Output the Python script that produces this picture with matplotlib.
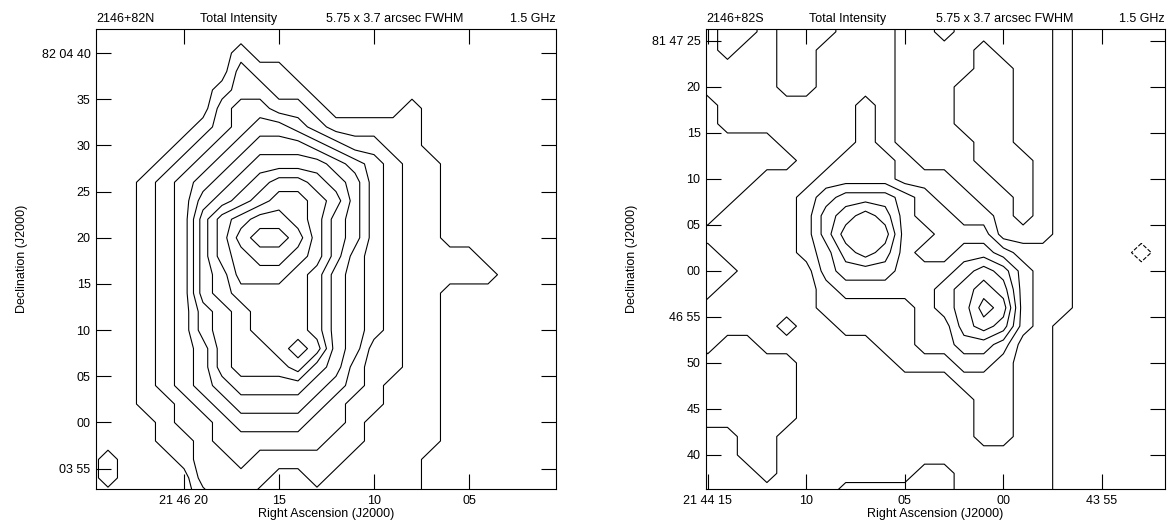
import numpy as np
import matplotlib.pyplot as plt

plt.rcParams['font.family'] = ['Liberation Sans', 'DejaVu Sans']

n_ra = np.arange(25, -1, -1)      # seconds of 21 46
n_dec = np.arange(44, -9, -2)     # arcsec from 82 04 00
n_map = [
    "00000000000000000000000000",
    "00000000000000000000000000",
    "00000000100000000000000000",
    "00000000211000000000000000",
    "00000001221100000000000000",
    "00000002332210000100000000",
    "00000012344321111100000000",
    "00000123455543221100000000",
    "00001234566665432110000000",
    "00012345678876532110000000",
    "00012356789987532110000000",
    "000123689aa986532110000000",
    "00012368abba86532110000000",
    "000123689aa986432111100000",
    "00012367999875432111110000",
    "00012367888875432110000000",
    "00012356788875432110000000",
    "00012356788875432110000000",
    "00012346778985422110000000",
    "00012346777865322110000000",
    "00012345666654321110000000",
    "00011234555543221110000000",
    "00001223444433211110000000",
    "00001123333332211110000000",
    "01000122322222111100000000",
    "01000022221121111100000000",
    "00000012211111111100000000",
]

# 2146+82S ('n' = below zero)
s_ra = np.arange(16, -10, -1)     # seconds of 21 44
s_dec = np.arange(28, -25, -2)    # arcsec from 81 47 00
s_map = [
    "11001000111001000001000000",
    "11001000111001000001000000",
    "11011001111000010001000000",
    "11111001111000011001000000",
    "01111001111000111001000000",
    "00111111121000111001000000",
    "00111111121000111001000000",
    "00000111121000011001000000",
    "00000011222100011101000000",
    "00001112222111001101000000",
    "00011123444321100101000000",
    "00111124565322110101000000",
    "11111124666332220001000000",
    "00111123565322332111000n00",
    "00011113444333454211000000",
    "00111112333334565211000000",
    "01111112222234576211000000",
    "01111011222233565210000000",
    "01001111112233443110000000",
    "00000011111222332110000000",
    "00000011111111222110000000",
    "00000011111111122110000000",
    "00000011111111122110000000",
    "11100111111111122110000000",
    "11100111111111111110000000",
    "11110111111100111110000000",
    "11111111000000111110000000",
]

levels = [-0.5, 0.5, 1.5, 2.5, 3.5, 4.5, 5.5, 6.5, 7.5, 8.5, 9.5, 10.5]

n_xticks = [20, 15, 10, 5]
n_xlabels = ['21 46 20', '15', '10', '05']
n_yticks = [40, 35, 30, 25, 20, 15, 10, 5, 0, -5]
n_ylabels = ['82 04 40', '35', '30', '25', '20', '15', '10', '05', '00', '03 55']
s_xticks = [15, 10, 5, 0, -5]
s_xlabels = ['21 44 15', '10', '05', '00', '43 55']
s_yticks = [25, 20, 15, 10, 5, 0, -5, -10, -15, -20]
s_ylabels = ['81 47 25', '20', '15', '10', '05', '00', '46 55', '50', '45', '40']


def decode(rows):
    return np.array([[-1 if c == 'n' else int(c, 16) for c in r] for r in rows], float)


fig = plt.figure(figsize=(11.68, 5.27), dpi=100)
axL = fig.add_axes([96 / 1168, 38 / 527, 460 / 1168, 460 / 527])
axR = fig.add_axes([706 / 1168, 38 / 527, 459 / 1168, 460 / 527])

panels = [
    (axL, n_ra, n_dec, n_map, (24.63, 0.42), (-7.2, 42.6), n_xticks, n_xlabels,
     n_yticks, n_ylabels, '2146+82N'),
    (axR, s_ra, s_dec, s_map, (15.09, -8.2), (-23.7, 26.3), s_xticks, s_xlabels,
     s_yticks, s_ylabels, '2146+82S'),
]

for ax, ra, dec, m, xl, yl, xt, xtl, yt, ytl, name in panels:
    z = decode(m)
    ax.contour(ra, dec, z, levels=levels, colors='k', linewidths=0.8)
    ax.set_xlim(*xl)
    ax.set_ylim(*yl)
    ax.set_xticks(xt)
    ax.set_xticklabels(xtl)
    ax.set_yticks(yt)
    ax.set_yticklabels(ytl)
    ax.tick_params(direction='in', length=11, width=0.8, top=True, right=True,
                   labelsize=9, pad=4)
    for s in ax.spines.values():
        s.set_linewidth(0.8)
    ax.set_xlabel('Right Ascension (J2000)', fontsize=9, labelpad=1)
    ax.set_ylabel('Declination (J2000)', fontsize=9, labelpad=10)
    ax.text(0.0, 1.008, name, transform=ax.transAxes, fontsize=9, va='bottom', ha='left')
    ax.text(0.225, 1.008, 'Total Intensity', transform=ax.transAxes, fontsize=9,
            va='bottom', ha='left')
    ax.text(0.5, 1.008, '5.75 x 3.7 arcsec FWHM', transform=ax.transAxes, fontsize=9,
            va='bottom', ha='left')
    ax.text(1.0, 1.008, '1.5 GHz', transform=ax.transAxes, fontsize=9,
            va='bottom', ha='right')

fig.savefig('out.png', dpi=100)
